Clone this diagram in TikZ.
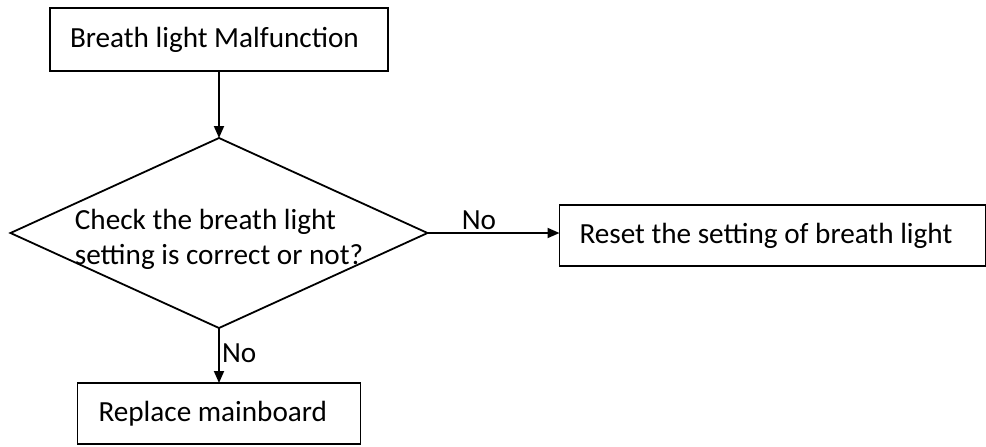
\documentclass[tikz,border=0pt]{standalone}
\usepackage{fontspec}
\setmainfont{Carlito}
\usetikzlibrary{arrows.meta, positioning, shapes.geometric}

\begin{document}
\begin{tikzpicture}[x=0.5pt, y=-0.5pt,
    every node/.style={outer sep=0pt},
    procbox/.style={draw, line width=0.9pt, rectangle, align=flush left, minimum height=30.5pt, inner xsep=10pt},
    decision/.style={draw, line width=0.9pt, diamond, aspect=2.2, align=flush left, inner xsep=-14pt, inner ysep=0pt,
                     text height=34pt, minimum width=208.5pt, minimum height=95pt},
    flow/.style={line width=0.9pt, -{Triangle[length=6pt, width=5pt]}},
    answer/.style={font=\fontsize{14.6}{17.5}\selectfont, inner sep=1.5pt},
    font=\fontsize{14.6}{17.5}\selectfont]
    % keep the page at the size of the reference
    \useasboundingbox (0,0) rectangle (986,446);

    %--- the steps
    \node[procbox, minimum height=31.5pt, text width=149pt] (fault) at (219,39.5) {Breath light Malfunction};
    \node[decision] (check) [below=33.5pt of fault] {Check the breath light\\setting is correct or not?};
    \node[procbox, text width=193pt, yshift=-1.25pt] (reset) [right=66pt of check] {Reset the setting of breath light};
    \node[procbox, inner xsep=10.5pt, text width=120.5pt] (replace) [below=27.5pt of check] {Replace mainboard};

    %--- connectors
    \draw[flow] (fault) -- (check);
    \draw[flow] (check.east) -- node[answer, above, pos=0.39] (no1) {No} (check.east -| reset.west);
    \draw[flow] (check.south) -- node[answer, right, pos=0.46] (no2) {No} (replace.north);
\end{tikzpicture}
\end{document}
